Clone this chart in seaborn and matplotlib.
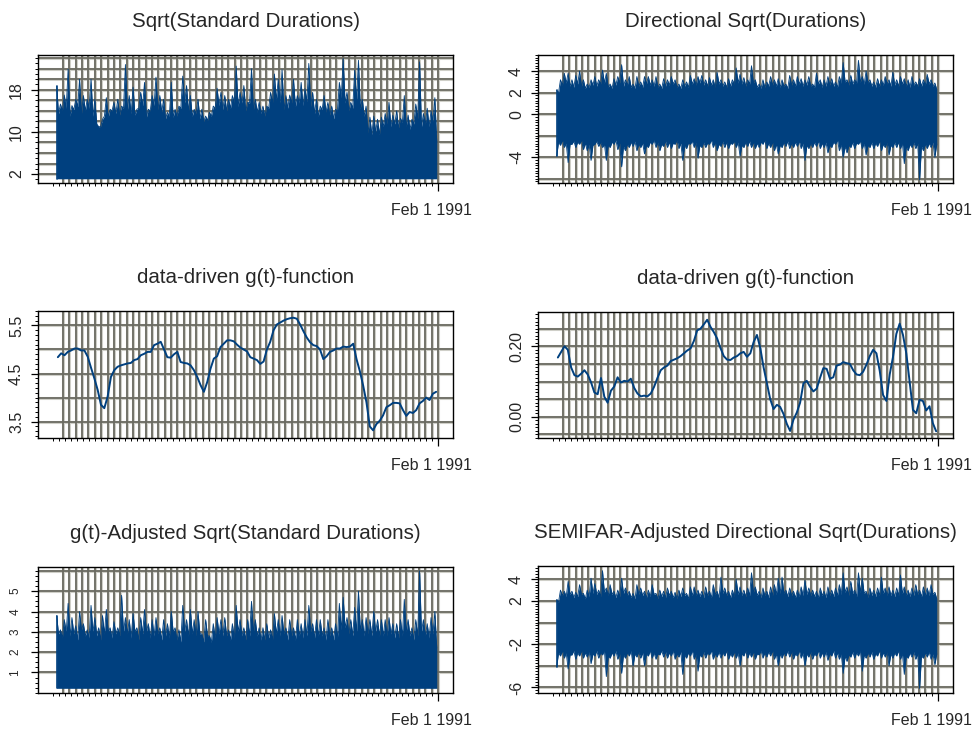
import numpy as np
import matplotlib
matplotlib.use('Agg')
import matplotlib.pyplot as plt
from matplotlib.ticker import MultipleLocator, FixedLocator
import seaborn as sns

sns.set_style('white')
plt.rcParams['font.family'] = ['Liberation Sans', 'DejaVu Sans']

titles = ['Sqrt(Standard Durations)', 'Directional Sqrt(Durations)',
          'data-driven g(t)-function', 'data-driven g(t)-function',
          'g(t)-Adjusted Sqrt(Standard Durations)',
          'SEMIFAR-Adjusted Directional Sqrt(Durations)']
date_label = 'Feb 1 1991'

# sqrt(standard durations): spike tops, dips between spikes, floor
std_peaks = [18.7, 15.3, 17.0, 21.9, 15.0, 16.2, 20.0, 16.9, 16.2, 20.0,
             16.2, 11.0, 12.4, 16.5, 14.3, 15.6, 16.2, 14.9, 22.8, 16.9,
             18.5, 14.3, 17.5, 19.4, 14.3, 16.9, 20.4, 16.9, 16.2, 13.7,
             19.4, 14.3, 14.9, 20.6, 18.8, 16.9, 14.3, 16.2, 14.3, 13.0,
             13.7, 14.9, 18.3, 17.5, 16.9, 16.2, 16.9, 22.5, 17.5, 18.8,
             15.6, 22.0, 16.2, 15.6, 14.9, 14.9, 17.5, 21.0, 20.0, 21.8,
             16.9, 17.0, 20.0, 16.9, 19.4, 18.2, 23.0, 17.5, 16.2, 14.9,
             16.9, 15.6, 14.9, 14.3, 19.4, 23.9, 17.5, 15.6, 21.7, 23.6,
             16.2, 14.9, 12.8, 13.0, 12.4, 12.8, 13.5, 15.6, 13.2, 14.0,
             12.6, 16.9, 13.2, 12.4, 15.3, 23.3, 13.5, 14.5, 14.0, 16.5]
std_dips = [13.5, 14.0, 14.5, 13.0, 14.2, 14.8, 13.5, 14.0, 14.5, 13.0,
            11.5, 11.0, 13.0, 12.8, 14.0, 13.5, 13.2, 14.5, 14.0, 13.5,
            13.2, 14.5, 15.0, 12.8, 14.0, 15.0, 14.2, 13.8, 12.5, 13.0,
            12.8, 13.0, 14.5, 15.5, 14.0, 13.0, 13.5, 12.5, 12.0, 12.2,
            13.0, 14.5, 15.0, 14.2, 14.0, 14.5, 15.5, 14.8, 15.5, 14.0,
            15.5, 14.2, 13.8, 13.5, 13.0, 14.5, 15.5, 16.0, 15.5, 14.2,
            14.5, 15.5, 14.8, 15.5, 15.0, 15.8, 14.8, 13.5, 13.0, 14.2,
            13.8, 13.2, 12.5, 14.0, 16.5, 15.5, 14.0, 14.5, 16.0, 14.5,
            13.0, 9.8, 9.5, 10.0, 9.5, 11.0, 11.5, 11.0, 11.5, 10.8,
            11.8, 11.0, 10.5, 11.5, 12.5, 11.0, 11.5, 11.0, 12.0, 8.0]
std_floor = 1.1

# directional sqrt(durations): upper spikes/dips, lower spikes/dips
dir_up = [2.2, 3.2, 3.8, 3.8, 3.2, 3.6, 4.0, 3.2, 2.8, 3.2,
          3.5, 3.2, 4.1, 3.8, 2.8, 3.3, 3.5, 4.6, 3.2, 3.5,
          2.8, 3.5, 3.0, 3.5, 3.5, 3.2, 3.5, 2.8, 3.3, 3.2,
          3.5, 3.2, 2.8, 3.2, 3.0, 3.6, 3.3, 3.5, 3.6, 3.2,
          3.4, 3.2, 3.9, 3.2, 3.0, 3.3, 3.2, 4.3, 3.7, 3.4,
          3.2, 4.5, 3.2, 2.8, 3.2, 3.0, 3.5, 3.2, 3.3, 3.2,
          2.8, 3.6, 3.2, 3.5, 3.3, 3.2, 3.5, 2.8, 3.8, 3.2,
          3.2, 3.5, 3.3, 3.0, 3.5, 4.8, 3.2, 3.6, 3.2, 5.0,
          3.5, 4.0, 3.2, 3.0, 3.3, 3.2, 3.5, 3.2, 3.9, 3.2,
          3.5, 3.3, 3.2, 3.5, 3.0, 3.3, 3.2, 3.7, 3.2, 2.9]
dir_up_dips = [2.0, 2.7, 2.9, 2.6, 2.5, 2.8, 2.6, 2.4, 2.5, 2.7,
               2.6, 2.8, 2.9, 2.5, 2.4, 2.7, 2.9, 2.6, 2.7, 2.5,
               2.4, 2.6, 2.5, 2.8, 2.7, 2.6, 2.5, 2.4, 2.6, 2.7,
               2.8, 2.5, 2.4, 2.6, 2.5, 2.8, 2.7, 2.9, 2.7, 2.6,
               2.7, 2.5, 2.8, 2.6, 2.5, 2.6, 2.8, 2.9, 2.8, 2.6,
               2.8, 2.9, 2.5, 2.4, 2.5, 2.6, 2.7, 2.6, 2.5, 2.6,
               2.4, 2.7, 2.6, 2.8, 2.6, 2.7, 2.6, 2.5, 2.8, 2.5,
               2.6, 2.7, 2.6, 2.5, 2.9, 3.0, 2.7, 2.8, 2.9, 3.0,
               2.8, 2.9, 2.6, 2.5, 2.6, 2.7, 2.8, 2.6, 2.7, 2.6,
               2.8, 2.6, 2.5, 2.7, 2.6, 2.6, 2.7, 2.8, 2.6, 2.3]
dir_lo = [-3.9, -2.9, -3.1, -4.5, -2.8, -3.1, -2.8, -3.3, -3.4, -4.3,
          -2.8, -3.0, -3.1, -4.3, -3.1, -2.8, -3.3, -4.9, -3.4, -3.1,
          -3.0, -3.4, -3.1, -3.7, -3.1, -2.8, -3.1, -3.4, -3.0, -3.1,
          -3.2, -2.8, -3.2, -4.3, -3.2, -2.8, -3.1, -4.1, -3.1, -3.1,
          -2.8, -3.1, -3.4, -3.0, -3.1, -3.2, -2.8, -3.1, -3.9, -3.1,
          -3.0, -3.1, -3.2, -3.1, -2.8, -3.2, -3.1, -3.4, -3.7, -3.1,
          -3.0, -3.2, -3.1, -3.0, -3.2, -4.3, -3.2, -3.1, -3.0, -3.2,
          -3.1, -3.6, -3.1, -2.8, -3.4, -4.0, -3.6, -3.1, -3.2, -2.8,
          -3.2, -3.8, -3.1, -3.2, -3.0, -3.4, -3.1, -3.8, -3.1, -3.1,
          -3.2, -4.6, -3.4, -3.1, -3.2, -6.1, -3.4, -3.2, -3.1, -4.0]
dir_lo_dips = [-2.6, -2.4, -2.7, -2.8, -2.5, -2.6, -2.4, -2.7, -2.8, -2.9,
               -2.5, -2.6, -2.8, -2.9, -2.6, -2.4, -2.7, -3.0, -2.8, -2.6,
               -2.5, -2.8, -2.7, -2.9, -2.6, -2.4, -2.6, -2.8, -2.5, -2.6,
               -2.7, -2.4, -2.7, -2.9, -2.7, -2.5, -2.6, -2.9, -2.6, -2.7,
               -2.4, -2.6, -2.8, -2.5, -2.6, -2.7, -2.5, -2.6, -2.9, -2.6,
               -2.5, -2.6, -2.7, -2.6, -2.4, -2.7, -2.6, -2.8, -2.9, -2.6,
               -2.5, -2.7, -2.6, -2.5, -2.7, -2.9, -2.7, -2.6, -2.5, -2.7,
               -2.6, -2.9, -2.6, -2.4, -2.8, -3.0, -2.9, -2.6, -2.7, -2.5,
               -2.7, -2.9, -2.6, -2.7, -2.5, -2.8, -2.6, -2.9, -2.6, -2.6,
               -2.7, -3.0, -2.8, -2.6, -2.7, -3.0, -2.8, -2.7, -2.6, -2.8]

# g(t) of the standard durations
g_std = [4.84, 4.92, 4.88, 4.95, 4.98, 5.02, 5.02, 4.98, 4.98, 4.85,
         4.62, 4.40, 4.16, 3.85, 3.78, 4.02, 4.43, 4.57, 4.64, 4.67,
         4.69, 4.71, 4.72, 4.78, 4.80, 4.88, 4.91, 4.95, 4.95, 5.09,
         5.12, 5.16, 5.00, 4.84, 4.83, 4.90, 4.95, 4.74, 4.72, 4.71,
         4.67, 4.57, 4.43, 4.26, 4.12, 4.32, 4.60, 4.81, 4.86, 5.05,
         5.12, 5.19, 5.19, 5.17, 5.10, 5.04, 5.00, 4.96, 4.84, 4.81,
         4.78, 4.70, 4.75, 5.00, 5.16, 5.40, 5.52, 5.56, 5.60, 5.63,
         5.65, 5.66, 5.64, 5.52, 5.38, 5.25, 5.15, 5.09, 5.07, 5.00,
         4.80, 4.86, 4.95, 4.98, 5.02, 5.02, 5.06, 5.05, 5.06, 5.12,
         4.80, 4.55, 4.25, 3.90, 3.40, 3.32, 3.45, 3.52, 3.63, 3.80,
         3.84, 3.89, 3.89, 3.88, 3.74, 3.62, 3.70, 3.68, 3.74, 3.88,
         3.93, 4.00, 3.95, 4.08, 4.12]

# g(t) of the directional durations
g_dir = [0.168, 0.184, 0.200, 0.190, 0.140, 0.118, 0.114, 0.122, 0.132, 0.120,
         0.098, 0.069, 0.064, 0.110, 0.057, 0.040, 0.074, 0.086, 0.112, 0.097,
         0.102, 0.100, 0.108, 0.082, 0.066, 0.058, 0.060, 0.058, 0.066, 0.085,
         0.110, 0.132, 0.140, 0.145, 0.158, 0.162, 0.166, 0.172, 0.180, 0.188,
         0.194, 0.215, 0.245, 0.250, 0.262, 0.275, 0.255, 0.240, 0.222, 0.195,
         0.172, 0.162, 0.161, 0.168, 0.172, 0.180, 0.184, 0.170, 0.180, 0.212,
         0.232, 0.195, 0.140, 0.095, 0.050, 0.022, 0.034, 0.028, 0.008, -0.020,
         -0.040, -0.008, 0.012, 0.040, 0.095, 0.102, 0.085, 0.072, 0.080, 0.110,
         0.138, 0.136, 0.108, 0.112, 0.145, 0.148, 0.155, 0.152, 0.150, 0.132,
         0.120, 0.118, 0.128, 0.148, 0.172, 0.190, 0.180, 0.130, 0.062, 0.045,
         0.120, 0.170, 0.235, 0.264, 0.232, 0.180, 0.100, 0.020, 0.010, 0.048,
         0.045, 0.018, 0.030, -0.018, -0.041]

# g(t)-adjusted sqrt(standard durations)
adj_peaks = [3.8, 3.1, 3.6, 4.4, 3.7, 3.3, 4.0, 3.4, 3.1, 4.3,
             3.7, 3.2, 3.8, 4.1, 3.2, 3.5, 3.2, 4.8, 3.7, 3.6,
             3.9, 3.2, 3.7, 4.1, 3.4, 3.6, 3.7, 3.2, 3.6, 3.4,
             4.0, 3.2, 3.1, 4.3, 3.6, 4.1, 3.6, 4.0, 2.9, 3.6,
             2.8, 3.4, 3.7, 3.6, 3.7, 3.1, 3.4, 4.3, 3.6, 3.2,
             3.6, 4.5, 3.6, 3.2, 3.2, 3.4, 3.1, 3.9, 3.6, 3.8,
             3.2, 3.6, 3.2, 3.6, 3.4, 3.6, 4.3, 3.4, 3.6, 3.6,
             3.2, 3.6, 3.2, 3.4, 4.4, 4.7, 3.7, 3.6, 4.2, 5.0,
             3.6, 3.7, 3.6, 4.0, 3.6, 3.6, 3.6, 3.7, 3.4, 3.4,
             3.6, 4.6, 3.6, 3.2, 3.6, 6.0, 3.6, 3.4, 3.7, 4.0]
adj_dips = [2.9, 2.7, 3.0, 2.8, 2.9, 2.6, 3.1, 2.8, 2.7, 3.0,
            2.8, 2.6, 2.9, 3.0, 2.7, 2.9, 2.8, 3.0, 2.9, 2.7,
            3.0, 2.6, 2.9, 3.0, 2.7, 2.8, 2.9, 2.6, 2.8, 2.7,
            3.0, 2.6, 2.5, 3.0, 2.8, 2.9, 2.8, 2.9, 2.5, 2.8,
            2.5, 2.7, 2.9, 2.8, 2.8, 2.6, 2.7, 3.0, 2.8, 2.6,
            2.8, 3.0, 2.8, 2.6, 2.6, 2.7, 2.6, 2.9, 2.8, 2.9,
            2.6, 2.8, 2.6, 2.8, 2.7, 2.8, 3.0, 2.7, 2.8, 2.8,
            2.6, 2.8, 2.6, 2.7, 3.1, 3.2, 2.9, 2.8, 3.0, 3.1,
            2.8, 2.9, 2.8, 3.0, 2.8, 2.8, 2.8, 2.9, 2.7, 2.7,
            2.8, 3.0, 2.8, 2.6, 2.8, 3.0, 2.8, 2.7, 2.9, 2.2]
adj_floor = 0.22

# SEMIFAR-adjusted directional sqrt(durations)
semi_up = [2.1, 3.0, 2.9, 3.8, 2.9, 2.8, 3.5, 2.7, 3.0, 4.1,
           3.6, 3.0, 4.8, 3.2, 3.5, 2.9, 3.0, 4.1, 3.2, 2.9,
           2.7, 3.5, 3.2, 2.9, 3.0, 3.5, 2.7, 3.0, 2.9, 3.2,
           2.9, 2.8, 3.0, 3.2, 2.7, 3.3, 3.3, 3.0, 2.9, 3.3,
           2.9, 3.5, 2.9, 4.2, 3.2, 2.9, 3.0, 4.0, 3.3, 3.0,
           3.2, 4.6, 3.3, 2.9, 3.2, 2.9, 3.3, 3.5, 4.1, 4.2,
           3.0, 3.2, 2.9, 3.0, 3.3, 3.9, 3.2, 3.0, 2.9, 3.2,
           2.9, 3.3, 3.0, 3.2, 3.5, 4.6, 3.3, 3.8, 3.0, 4.6,
           4.1, 2.9, 3.2, 3.0, 3.2, 4.2, 3.2, 3.3, 3.0, 3.2,
           4.4, 3.3, 3.0, 3.2, 3.5, 3.0, 3.3, 3.2, 3.5, 2.8]
semi_up_dips = [1.9, 2.5, 2.4, 2.6, 2.3, 2.4, 2.6, 2.2, 2.4, 2.7,
                2.6, 2.4, 2.8, 2.5, 2.6, 2.3, 2.4, 2.7, 2.5, 2.3,
                2.2, 2.6, 2.5, 2.3, 2.4, 2.6, 2.2, 2.4, 2.3, 2.5,
                2.3, 2.2, 2.4, 2.5, 2.2, 2.5, 2.5, 2.4, 2.3, 2.5,
                2.3, 2.6, 2.3, 2.7, 2.5, 2.3, 2.4, 2.6, 2.5, 2.4,
                2.5, 2.8, 2.5, 2.3, 2.5, 2.3, 2.5, 2.6, 2.7, 2.7,
                2.4, 2.5, 2.3, 2.4, 2.5, 2.6, 2.5, 2.4, 2.3, 2.5,
                2.3, 2.5, 2.4, 2.5, 2.6, 2.8, 2.5, 2.7, 2.4, 2.8,
                2.7, 2.3, 2.5, 2.4, 2.5, 2.7, 2.5, 2.5, 2.4, 2.5,
                2.7, 2.5, 2.4, 2.5, 2.6, 2.4, 2.5, 2.5, 2.6, 2.2]
semi_lo = [-4.1, -3.1, -3.3, -4.3, -3.0, -3.4, -3.1, -3.3, -3.2, -3.8,
           -3.1, -3.3, -3.0, -5.0, -3.3, -3.1, -3.4, -4.7, -3.3, -3.1,
           -4.0, -3.2, -3.3, -4.0, -3.1, -3.3, -3.4, -3.0, -3.2, -3.3,
           -3.1, -3.4, -3.2, -4.8, -3.3, -3.1, -3.4, -4.5, -3.2, -3.3,
           -3.0, -3.4, -3.2, -3.3, -3.1, -3.4, -3.2, -3.3, -4.0, -3.1,
           -3.3, -3.2, -3.4, -3.0, -3.3, -3.2, -3.1, -3.4, -4.0, -3.3,
           -3.1, -3.2, -3.4, -3.1, -3.3, -4.0, -3.2, -3.4, -3.1, -3.3,
           -3.2, -3.5, -3.1, -3.3, -3.4, -4.7, -3.6, -3.2, -3.3, -3.1,
           -4.5, -3.3, -3.2, -3.4, -3.1, -3.3, -3.2, -4.0, -3.3, -3.1,
           -3.4, -4.8, -3.3, -3.2, -3.4, -6.1, -3.3, -3.2, -3.4, -3.9]
semi_lo_dips = [-2.8, -2.6, -2.8, -3.0, -2.6, -2.8, -2.6, -2.8, -2.7, -2.9,
                -2.6, -2.8, -2.6, -3.1, -2.8, -2.6, -2.9, -3.0, -2.8, -2.6,
                -2.9, -2.7, -2.8, -2.9, -2.6, -2.8, -2.9, -2.6, -2.7, -2.8,
                -2.6, -2.9, -2.7, -3.0, -2.8, -2.6, -2.9, -3.0, -2.7, -2.8,
                -2.6, -2.9, -2.7, -2.8, -2.6, -2.9, -2.7, -2.8, -2.9, -2.6,
                -2.8, -2.7, -2.9, -2.6, -2.8, -2.7, -2.6, -2.9, -2.9, -2.8,
                -2.6, -2.7, -2.9, -2.6, -2.8, -2.9, -2.7, -2.9, -2.6, -2.8,
                -2.7, -2.9, -2.6, -2.8, -2.9, -3.1, -3.0, -2.7, -2.8, -2.6,
                -3.0, -2.8, -2.7, -2.9, -2.6, -2.8, -2.7, -2.9, -2.8, -2.6,
                -2.9, -3.1, -2.8, -2.7, -2.9, -3.1, -2.8, -2.7, -2.9, -2.9]

BLUE = '#00407f'
GRID_DARK = '#6c6c63'
GRID_LIGHT = '#cfcfc8'
X_START, X_END = 0.6, 63.8   # days, series span


def zigzag(tops, dips):
    y = np.empty(2 * len(tops))
    y[0::2] = tops
    y[1::2] = dips
    return y


def spikes(ax, up, up_dips, lo, lo_dips=None):
    top = zigzag(up, up_dips)
    if lo_dips is None:
        bottom = np.full(top.shape, lo)
    else:
        bottom = zigzag(lo, lo_dips)
    x = np.linspace(X_START, X_END, top.size)
    ax.fill_between(x, bottom, top, color=BLUE, lw=0, zorder=2)
    sns.lineplot(x=x, y=top, ax=ax, color=BLUE, linewidth=0.6,
                 estimator=None, sort=False, zorder=3)
    if lo_dips is not None:
        sns.lineplot(x=x, y=bottom, ax=ax, color=BLUE, linewidth=0.6,
                     estimator=None, sort=False, zorder=3)
    # the series starts with a vertical stroke at its first value
    ax.plot([x[0], x[0]], [bottom[0], top[0]], color=BLUE, lw=1.2, zorder=3)


def curve(ax, vals):
    x = np.linspace(X_START + 0.2, X_END - 0.1, len(vals))
    sns.lineplot(x=x, y=vals, ax=ax, color=BLUE, linewidth=1.4,
                 estimator=None, sort=False, zorder=3)


def frame(ax, title, ylim, grid_y, ticks, labels, minor, lsize=11.5, lpad=5):
    ax.set_xlim(-2.5, 66.5)
    ax.set_ylim(*ylim)
    for gy in grid_y:
        ax.axhline(gy, color=GRID_LIGHT, lw=2.2, zorder=0.5)
        ax.axhline(gy, color=GRID_DARK, lw=1.3, zorder=0.6)
    for gx in np.linspace(1.66, 64, 60):
        ax.axvline(gx, color=GRID_LIGHT, lw=2.2, zorder=0.5)
        ax.axvline(gx, color=GRID_DARK, lw=1.3, zorder=0.6)
    ax.xaxis.set_major_locator(FixedLocator([64]))
    ax.xaxis.set_minor_locator(FixedLocator(np.arange(0, 64)))
    ax.set_xticklabels([''])
    ax.tick_params(axis='x', which='major', length=6, width=0.9,
                   direction='out', bottom=True, color='black')
    ax.tick_params(axis='x', which='minor', length=2.5, width=0.7,
                   direction='out', bottom=True, color='black')
    ax.yaxis.set_major_locator(FixedLocator(ticks))
    ax.yaxis.set_minor_locator(MultipleLocator(minor))
    ax.set_yticklabels(labels, rotation=90, va='center', fontsize=lsize)
    ax.tick_params(axis='y', which='major', length=5, width=0.9,
                   direction='out', left=True, pad=lpad, color='black')
    ax.tick_params(axis='y', which='minor', length=2, width=0.7,
                   direction='out', left=True, color='black')
    for s in ax.spines.values():
        s.set_color('black')
        s.set_linewidth(1.0)
        s.set_zorder(5)
    ax.set_xlabel('')
    ax.set_ylabel('')
    ax.set_title(title, fontsize=14.8, pad=20)
    ax.annotate(date_label, xy=(0.947, 0), xycoords='axes fraction',
                xytext=(0, -19.5), textcoords='offset points',
                ha='center', va='center', fontsize=11.5)


fig = plt.figure(figsize=(9.75, 7.29), dpi=100)
W, H = 975, 729


def add_ax(left, top, w, h):
    return fig.add_axes([left / W, 1 - (top + h) / H, w / W, h / H])


ax1 = add_ax(38, 55, 415, 128)
ax2 = add_ax(538, 55, 415, 128)
ax3 = add_ax(38, 311, 415, 127)
ax4 = add_ax(538, 312, 415, 126)
ax5 = add_ax(38, 567, 415, 126)
ax6 = add_ax(538, 566, 415, 127)

spikes(ax1, std_peaks, std_dips, std_floor)
frame(ax1, titles[0], (0.3, 24.6), np.arange(2, 25, 2),
      [2, 10, 18], ['2', '10', '18'], 1)

spikes(ax2, dir_up, dir_up_dips, dir_lo, dir_lo_dips)
frame(ax2, titles[1], (-6.4, 5.5), np.arange(-6, 5, 2),
      [-4, 0, 2, 4], ['-4', '0', '2', '4'], 0.25)

curve(ax3, g_std)
frame(ax3, titles[2], (3.16, 5.80), np.arange(3.5, 5.6, 0.5),
      [3.5, 4.5, 5.5], ['3.5', '4.5', '5.5'], 0.1)

curve(ax4, g_dir)
frame(ax4, titles[3], (-0.06, 0.297), np.arange(-0.05, 0.26, 0.05),
      [0.0, 0.2], ['0.00', '0.20'], 0.01)

spikes(ax5, adj_peaks, adj_dips, adj_floor)
frame(ax5, titles[4], (-0.01, 6.19), np.arange(1, 7, 1),
      [1, 2, 3, 4, 5], ['1', '2', '3', '4', '5'], 0.25, lsize=8.5, lpad=7)

spikes(ax6, semi_up, semi_up_dips, semi_lo, semi_lo_dips)
frame(ax6, titles[5], (-6.52, 5.23), np.arange(-6, 5, 2),
      [-6, -2, 2, 4], ['-6', '-2', '2', '4'], 0.25)

fig.savefig('out.png', dpi=100, facecolor='white')
